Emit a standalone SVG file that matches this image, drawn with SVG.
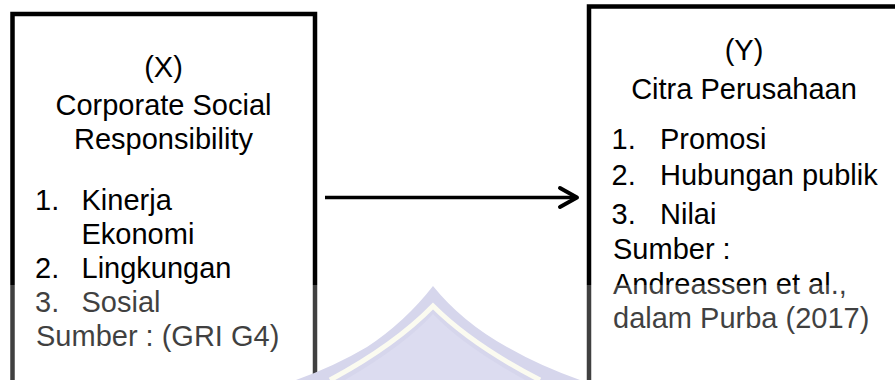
<svg xmlns="http://www.w3.org/2000/svg" width="895" height="380" viewBox="0 0 895 380">
  <style>
    .box { fill: #ffffff; stroke: #000000; stroke-width: 4.5; }
    .t { font-family: "Liberation Sans", Arial, sans-serif; font-size: 29px; fill: #000000; }
    .c { text-anchor: middle; }
    .link { stroke: #000000; stroke-width: 3.5; fill: none; }
    .head { stroke: #000000; stroke-width: 4; fill: none; stroke-linecap: round; stroke-linejoin: round; }
  </style>
  <rect x="0" y="0" width="895" height="380" fill="#ffffff"/>

  <!-- Independent variable -->
  <g id="node-x">
    <rect class="box" x="12.5" y="14" width="302.5" height="380"/>
    <text class="t c" x="163.5" y="77">(X)</text>
    <text class="t c" x="163.5" y="115">Corporate Social</text>
    <text class="t c" x="163.5" y="148.5">Responsibility</text>
    <text class="t" x="35" y="210">1.</text>
    <text class="t" x="81.5" y="210">Kinerja</text>
    <text class="t" x="81.5" y="244">Ekonomi</text>
    <text class="t" x="35" y="278">2.</text>
    <text class="t" x="81.5" y="278">Lingkungan</text>
    <text class="t" x="35" y="312">3.</text>
    <text class="t" x="81.5" y="312">Sosial</text>
    <text class="t" x="36" y="346">Sumber : (GRI G4)</text>
  </g>

  <!-- Dependent variable -->
  <g id="node-y">
    <rect class="box" x="589" y="6.5" width="330" height="390"/>
    <text class="t c" x="744" y="60">(Y)</text>
    <text class="t c" x="744" y="98.5">Citra Perusahaan</text>
    <text class="t" x="611.5" y="148.5">1.</text>
    <text class="t" x="660" y="148.5">Promosi</text>
    <text class="t" x="611.5" y="185">2.</text>
    <text class="t" x="660" y="185">Hubungan publik</text>
    <text class="t" x="611.5" y="224">3.</text>
    <text class="t" x="660" y="224">Nilai</text>
    <text class="t" x="613" y="259">Sumber :</text>
    <text class="t" x="613" y="294">Andreassen et al.,</text>
    <text class="t" x="613" y="328">dalam Purba (2017)</text>
  </g>

  <!-- Connectors -->
  <g id="connectors">
    <line class="link" x1="325" y1="197.5" x2="575" y2="197.5"/>
    <polyline class="head" points="560,188 577,197.5 560,207"/>
  </g>

  <!-- Lower band lightening -->
  <rect x="0" y="285" width="895" height="95" fill="#ffffff" fill-opacity="0.25"/>

  <!-- Faint emblem in the lower band -->
  <g id="emblem">
    <path d="M 296 380 Q 335 366 367 347 Q 405 322 433 286 Q 462 322 507 347 Q 540 366 580 380 Z" fill="#d6d6ec"/>
    <path d="M 330 380 Q 395 345 433 306 Q 472 345 540 380" fill="none" stroke="#fbfbf0" stroke-width="5"/>
    <path d="M 345 380 Q 405 345 433 314 Q 462 345 525 380 Z" fill="#dcdcf0"/>
  </g>
</svg>
